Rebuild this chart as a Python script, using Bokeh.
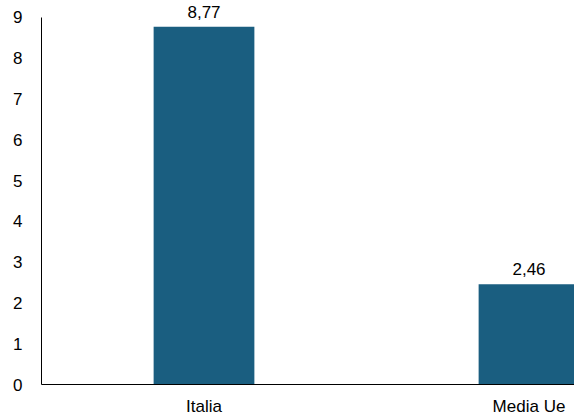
from bokeh.plotting import figure
from bokeh.models import ColumnDataSource, FixedTicker, Range1d
from bokeh.core.properties import value
from bokeh.embed import file_html
from bokeh.resources import INLINE

categories = ["Italia", "Media Ue"]
values = [8.77, 2.46]
labels = [f"{v:.2f}".replace(".", ",") for v in values]
positions = [i + 0.5 for i in range(len(categories))]

src = ColumnDataSource(dict(x=positions, top=values, label=labels))

p = figure(width=574, height=418, output_backend="svg", toolbar_location=None,
           x_range=Range1d(0, 1.64), y_range=Range1d(0, 9.416),
           min_border_left=41, min_border_right=0, min_border_top=0, min_border_bottom=33)
p.outline_line_color = None
p.xgrid.visible = False
p.ygrid.visible = False

p.vbar(x="x", top="top", width=0.31, bottom=0, source=src,
       fill_color="#1a5e80", line_color=None)
p.text(x="x", y="top", text="label", source=src, text_align="center",
       text_baseline="middle", y_offset=-15, text_font=value("Liberation Sans"),
       text_font_size="17px", text_color="#000000")

p.xaxis.ticker = FixedTicker(ticks=positions)
p.xaxis.major_label_overrides = {pos: c for pos, c in zip(positions, categories)}
p.yaxis.ticker = FixedTicker(ticks=list(range(0, 10)))
p.yaxis.bounds = (0, 9)
for ax in (p.xaxis[0], p.yaxis[0]):
    ax.major_tick_line_color = None
    ax.major_tick_out = 0
    ax.major_tick_in = 0
    ax.minor_tick_line_color = None
    ax.minor_tick_out = 0
    ax.minor_tick_in = 0
    ax.axis_line_color = "#000000"
    ax.major_label_text_font = "Liberation Sans"
    ax.major_label_text_font_size = "17px"
    ax.major_label_text_color = "#000000"
p.yaxis.major_label_standoff = 19
p.xaxis.major_label_standoff = 12

open("out.html", "w").write(file_html(p, INLINE))
